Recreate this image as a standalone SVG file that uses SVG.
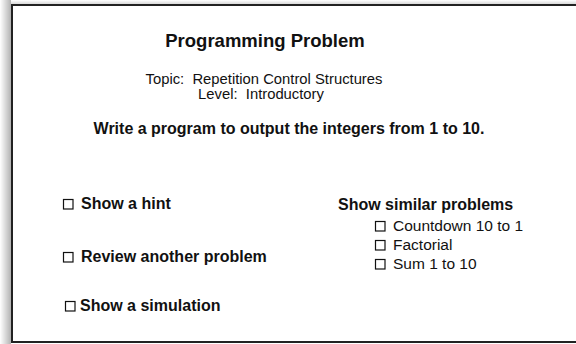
<svg xmlns="http://www.w3.org/2000/svg" width="576" height="344" viewBox="0 0 576 344">
  <style>
    text { font-family: "Liberation Sans", Arial, Helvetica, sans-serif; fill: #111; white-space: pre; }
    .title { font-size: 18.5px; font-weight: bold; text-anchor: middle; }
    .info { font-size: 14.8px; text-anchor: middle; }
    .task { font-size: 16px; font-weight: bold; text-anchor: middle; }
    .opt { font-size: 16px; font-weight: bold; }
    .item { font-size: 15.5px; }
    .box { fill: #fff; stroke: #111; stroke-width: 1.2; }
  </style>
  <defs>
    <linearGradient id="shadeLeft" x1="0" y1="0" x2="1" y2="0">
      <stop offset="0" stop-color="#000" stop-opacity="0"/>
      <stop offset="1" stop-color="#000" stop-opacity="0.3"/>
    </linearGradient>
    <linearGradient id="shadeTop" x1="0" y1="0" x2="0" y2="1">
      <stop offset="0" stop-color="#000" stop-opacity="0"/>
      <stop offset="1" stop-color="#000" stop-opacity="0.15"/>
    </linearGradient>
  </defs>

  <!-- page background and panel frame with soft shadow -->
  <rect x="0" y="0" width="576" height="344" fill="#fff"/>
  <rect x="0" y="0" width="11" height="344" fill="url(#shadeLeft)"/>
  <rect x="11" y="0" width="565" height="4" fill="url(#shadeTop)"/>
  <rect id="panel" x="12" y="5" width="570" height="337" fill="#fff" stroke="#222" stroke-width="2"/>

  <g id="header">
    <text class="title" x="265" y="47">Programming Problem</text>
    <text class="info" x="264" y="84">Topic:  Repetition Control Structures</text>
    <text class="info" x="261" y="99">Level:  Introductory</text>
  </g>

  <g id="task">
    <text class="task" x="289" y="134">Write a program to output the integers from 1 to 10.</text>
  </g>

  <g id="opt-hint">
    <rect class="box" x="63.5" y="199.5" width="9.5" height="9.5"/>
    <text class="opt" x="81" y="209">Show a hint</text>
  </g>
  <g id="opt-review">
    <rect class="box" x="63.5" y="252.5" width="9.5" height="9.5"/>
    <text class="opt" x="81" y="262">Review another problem</text>
  </g>
  <g id="opt-simulation">
    <rect class="box" x="65.5" y="301.5" width="9.5" height="9.5"/>
    <text class="opt" x="80" y="311">Show a simulation</text>
  </g>

  <g id="similar">
    <text class="opt" x="338" y="210">Show similar problems</text>
    <g id="sim-countdown">
      <rect class="box" x="375.5" y="221.5" width="9.5" height="9.5"/>
      <text class="item" x="393" y="231">Countdown 10 to 1</text>
    </g>
    <g id="sim-factorial">
      <rect class="box" x="375.5" y="240.5" width="9.5" height="9.5"/>
      <text class="item" x="393" y="250">Factorial</text>
    </g>
    <g id="sim-sum">
      <rect class="box" x="375.5" y="259.5" width="9.5" height="9.5"/>
      <text class="item" x="393" y="269">Sum 1 to 10</text>
    </g>
  </g>

  <!-- no connectors in this panel -->
  <g id="connectors"/>
</svg>
